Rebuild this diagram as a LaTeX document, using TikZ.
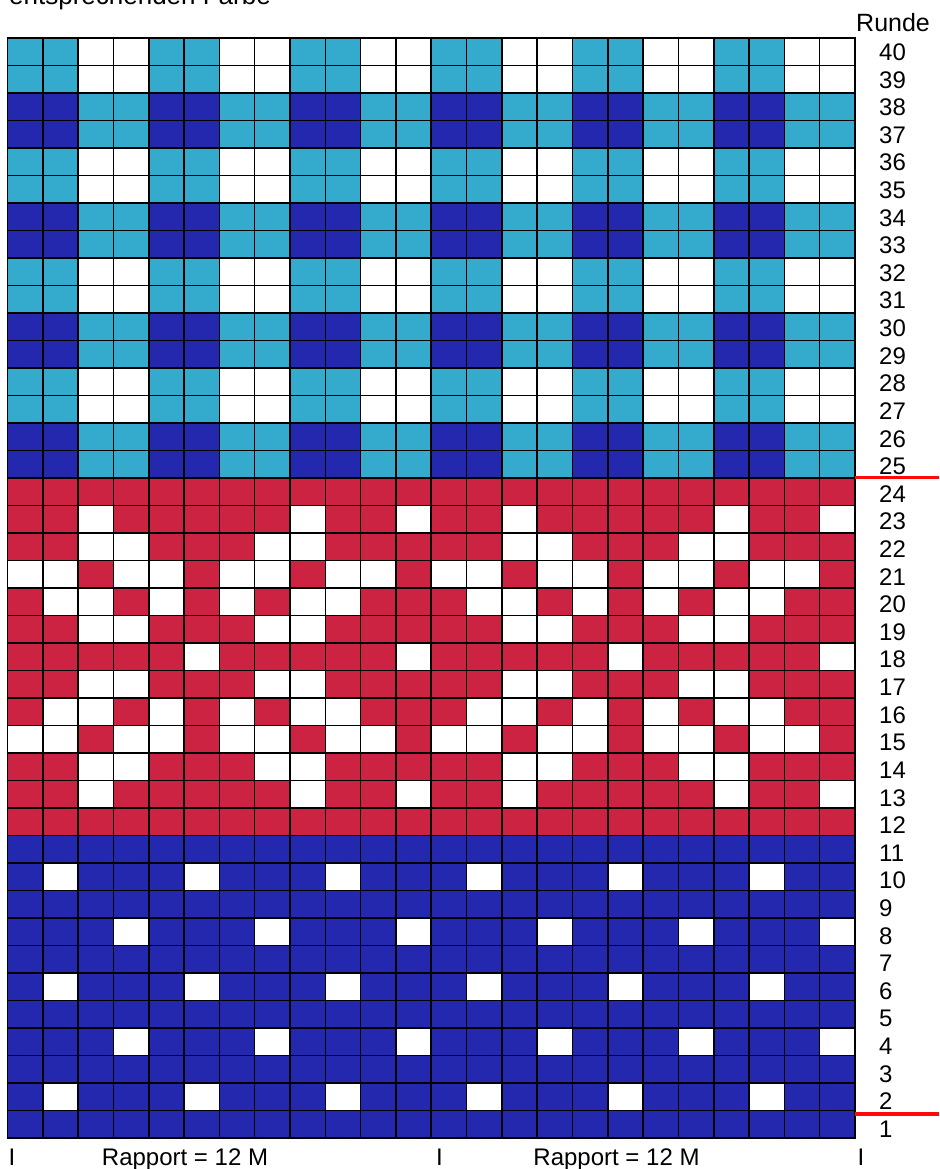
\documentclass[tikz,border=0pt]{standalone}
\usepackage{fontspec}
\setmainfont{Liberation Sans}
\definecolor{knitL}{HTML}{34AACC}
\definecolor{knitD}{HTML}{2328AF}
\definecolor{knitR}{HTML}{CC2343}
\definecolor{knitW}{HTML}{FFFFFF}
\definecolor{markred}{HTML}{FF0A0A}
\begin{document}
\begin{tikzpicture}[x=1pt,y=-1pt,
  gridline/.style={line width=1.6pt, black, line cap=rect},
  redline/.style={line width=3.6pt, markred},
  rowlbl/.style={anchor=west, inner sep=0pt, font=\fontsize{24}{24}\selectfont},
  botlbl/.style={anchor=base, inner sep=0pt, font=\fontsize{24}{24}\selectfont}]
\useasboundingbox (0,0) rectangle (939,1169);
\fill[white] (0,0) rectangle (939,1169);
\def\gx{7.5}\def\cw{35.3125}\def\gy{38}\def\rh{27.5}
% cells (pattern of 12 stitches, repeated twice)
\foreach \r/\p in {
 40/{L,L,W,W,L,L,W,W,L,L,W,W}, 39/{L,L,W,W,L,L,W,W,L,L,W,W},
 38/{D,D,L,L,D,D,L,L,D,D,L,L}, 37/{D,D,L,L,D,D,L,L,D,D,L,L},
 36/{L,L,W,W,L,L,W,W,L,L,W,W}, 35/{L,L,W,W,L,L,W,W,L,L,W,W},
 34/{D,D,L,L,D,D,L,L,D,D,L,L}, 33/{D,D,L,L,D,D,L,L,D,D,L,L},
 32/{L,L,W,W,L,L,W,W,L,L,W,W}, 31/{L,L,W,W,L,L,W,W,L,L,W,W},
 30/{D,D,L,L,D,D,L,L,D,D,L,L}, 29/{D,D,L,L,D,D,L,L,D,D,L,L},
 28/{L,L,W,W,L,L,W,W,L,L,W,W}, 27/{L,L,W,W,L,L,W,W,L,L,W,W},
 26/{D,D,L,L,D,D,L,L,D,D,L,L}, 25/{D,D,L,L,D,D,L,L,D,D,L,L},
 24/{R,R,R,R,R,R,R,R,R,R,R,R},
 23/{R,R,W,R,R,R,R,R,W,R,R,W},
 22/{R,R,W,W,R,R,R,W,W,R,R,R},
 21/{W,W,R,W,W,R,W,W,R,W,W,R},
 20/{R,W,W,R,W,R,W,R,W,W,R,R},
 19/{R,R,W,W,R,R,R,W,W,R,R,R},
 18/{R,R,R,R,R,W,R,R,R,R,R,W},
 17/{R,R,W,W,R,R,R,W,W,R,R,R},
 16/{R,W,W,R,W,R,W,R,W,W,R,R},
 15/{W,W,R,W,W,R,W,W,R,W,W,R},
 14/{R,R,W,W,R,R,R,W,W,R,R,R},
 13/{R,R,W,R,R,R,R,R,W,R,R,W},
 12/{R,R,R,R,R,R,R,R,R,R,R,R},
 11/{D,D,D,D,D,D,D,D,D,D,D,D},
 10/{D,W,D,D,D,W,D,D,D,W,D,D},
 9/{D,D,D,D,D,D,D,D,D,D,D,D},
 8/{D,D,D,W,D,D,D,W,D,D,D,W},
 7/{D,D,D,D,D,D,D,D,D,D,D,D},
 6/{D,W,D,D,D,W,D,D,D,W,D,D},
 5/{D,D,D,D,D,D,D,D,D,D,D,D},
 4/{D,D,D,W,D,D,D,W,D,D,D,W},
 3/{D,D,D,D,D,D,D,D,D,D,D,D},
 2/{D,W,D,D,D,W,D,D,D,W,D,D},
 1/{D,D,D,D,D,D,D,D,D,D,D,D}} {
  \foreach \k [count=\i] in \p {
    \pgfmathsetmacro\xa{\gx+(\i-1)*\cw}
    \pgfmathsetmacro\xb{\gx+(\i+11)*\cw}
    \pgfmathsetmacro\ya{\gy+(40-\r)*\rh}
    \fill[fill=knit\k] (\xa,\ya) rectangle ++(\cw,\rh);
    \fill[fill=knit\k] (\xb,\ya) rectangle ++(\cw,\rh);
  }
}
% grid lines
\foreach \i in {0,...,24} {
  \pgfmathsetmacro\xx{\gx+\i*\cw}
  \draw[gridline] (\xx,\gy) -- (\xx,\gy+40*\rh);
}
\foreach \j in {0,...,40} {
  \pgfmathsetmacro\yy{\gy+\j*\rh}
  \draw[gridline] (\gx,\yy) -- (\gx+24*\cw,\yy);
}
% red markers
\draw[redline] (855,477.5) -- (939,477.5);
\draw[redline] (855,1114) -- (939,1114);
% texts
\node[anchor=base west, inner sep=0pt, font=\fontsize{26}{26}\selectfont] (title) at (9,4.5) {entsprechenden Farbe};
\node[anchor=base west, inner sep=0pt, font=\fontsize{25}{25}\selectfont] (runde) at (856,31.7) {Runde};
\foreach \r in {1,...,40} {
  \node[rowlbl] (n\r) at (879,{52.2+(40-\r)*27.615}) {\r};
}
\node[botlbl] (bar1) at (12,1165) {I};
\node[botlbl] (rap1) at (185,1165) {Rapport = 12 M};
\node[botlbl] (bar2) at (439.5,1165) {I};
\node[botlbl] (rap2) at (616.5,1165) {Rapport = 12 M};
\node[botlbl] (bar3) at (861,1165) {I};
\end{tikzpicture}
\end{document}
